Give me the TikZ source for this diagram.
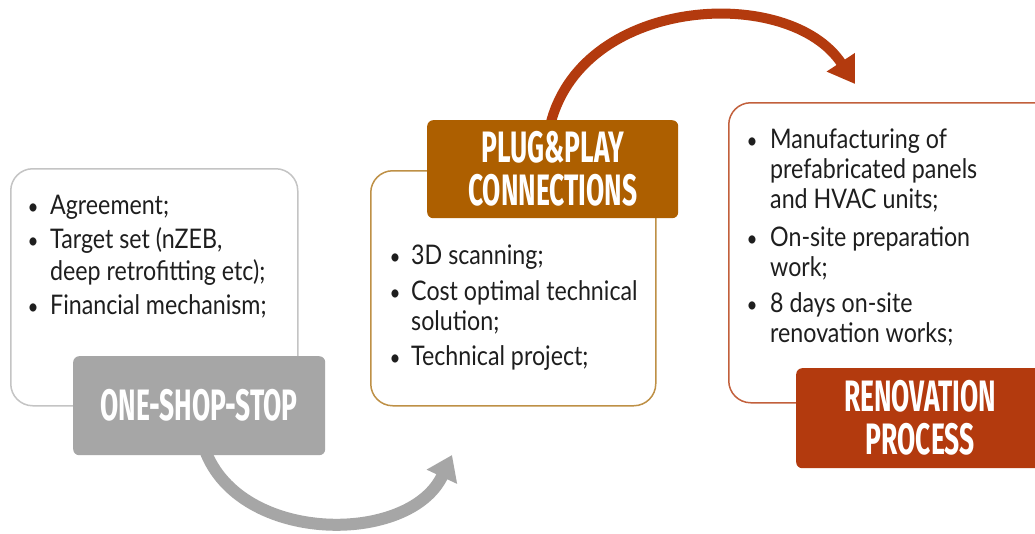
\documentclass[tikz,border=0pt]{standalone}
\usepackage{fontspec}
\setmainfont[FakeStretch=0.86]{Lato}
\newfontfamily\labelfont[FakeStretch=0.6]{Fira Sans}
\usetikzlibrary{arrows.meta}
\definecolor{txtc}{HTML}{1E1E1E}
\definecolor{labgray}{HTML}{A6A6A6}
\definecolor{labbrown}{HTML}{AD5F00}
\definecolor{labred}{HTML}{B33A0E}
\definecolor{bordgray}{HTML}{C4C4C4}
\definecolor{bordbrown}{HTML}{BE9046}
\definecolor{bordred}{HTML}{C2603C}
\tikzset{
  box/.style={draw, line width=1.5pt, rounded corners=22pt, anchor=north west, inner sep=0pt},
  lab/.style={rounded corners=6pt, anchor=north west, inner sep=0pt, text=white, align=center,
    font=\labelfont\bfseries\fontsize{44}{43}\selectfont},
  line/.style={anchor=base west, inner sep=0pt, text=txtc, font=\fontsize{27}{30}\selectfont},
  bul/.style={anchor=base, inner sep=0pt, text=txtc, font=\fontsize{22}{30}\selectfont},
  garrow/.style={draw=labgray, line width=12pt, -{Triangle[width=32pt,length=24pt]}},
  rarrow/.style={draw=labred, line width=10pt, -{Triangle[width=32pt,length=26pt]}}
}
\begin{document}
\begin{tikzpicture}[x=1pt,y=-1pt]
\useasboundingbox (0,0) rectangle (1035,533);
\fill[white] (0,0) rectangle (1035,533);

% content boxes
\node[box, draw=bordgray, minimum width=287pt, minimum height=237pt] (b1) at (10,168) {};
\node[box, draw=bordbrown, minimum width=285pt, minimum height=235pt] (b2) at (370,170) {};
\node[box, draw=bordred, minimum width=330pt, minimum height=300pt] (b3) at (728,102) {};

% arrows
\coordinate (g1) at (205,450);
\coordinate (g2) at (452,455);
\draw[garrow] (g1) .. controls (240,545) and (410,545) .. (g2);
\coordinate (r1) at (551,122);
\coordinate (r2) at (855,84);
\draw[rarrow] (r1) .. controls (585,-5) and (790,-15) .. (r2);

% labels
\node[lab, fill=labgray, minimum width=252pt, minimum height=99pt] (l1) at (73,356) {ONE-SHOP-STOP};
\node[lab, fill=labbrown, minimum width=251pt, minimum height=98pt] (l2) at (427,120) {PLUG\&PLAY\\CONNECTIONS};
\node[lab, fill=labred, minimum width=248pt, minimum height=100pt] (l3) at (796,368) {RENOVATION\\PROCESS};

% left text
\node[bul] (p1a) at (33,214) {•};
\node[line] (t1a) at (50,214) {Agreement;};
\node[bul] (p1b) at (33,248) {•};
\node[line] (t1b) at (50,248) {Target set (nZEB,};
\node[line] (t1c) at (50,280) {deep retrofitting etc);};
\node[bul] (p1d) at (33,314) {•};
\node[line] (t1d) at (50,314) {Financial mechanism;};

% middle text
\node[bul] (p2a) at (395,264) {•};
\node[line] (t2a) at (411,264) {3D scanning;};
\node[bul] (p2b) at (395,300) {•};
\node[line] (t2b) at (411,300) {Cost optimal technical};
\node[line] (t2c) at (411,330) {solution;};
\node[bul] (p2d) at (395,365) {•};
\node[line] (t2d) at (411,365) {Technical project;};

% right text
\node[bul] (p3a) at (752,148) {•};
\node[line] (t3a) at (770,148) {Manufacturing of};
\node[line] (t3b) at (770,178) {prefabricated panels};
\node[line] (t3c) at (770,208) {and HVAC units;};
\node[bul] (p3d) at (752,246) {•};
\node[line] (t3d) at (770,246) {On-site preparation};
\node[line] (t3e) at (770,276) {work;};
\node[bul] (p3f) at (752,312) {•};
\node[line] (t3f) at (770,312) {8 days on-site};
\node[line] (t3g) at (770,342) {renovation works;};
\end{tikzpicture}
\end{document}
